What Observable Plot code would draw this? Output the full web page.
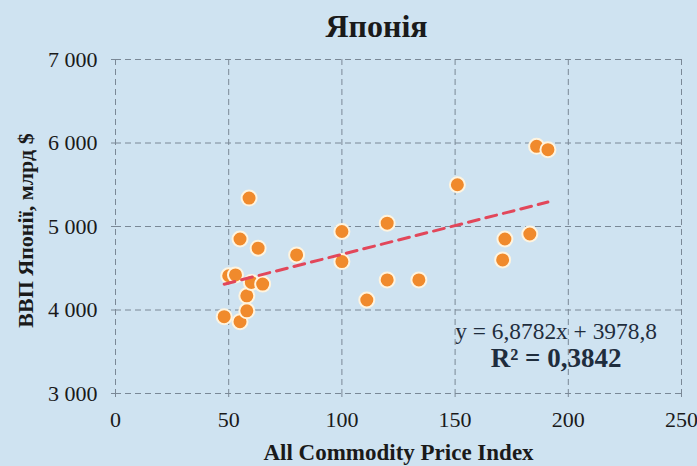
<!DOCTYPE html>
<html>
<head>
<meta charset="utf-8">
<script src="https://cdn.jsdelivr.net/npm/d3@7"></script>
<script src="https://cdn.jsdelivr.net/npm/@observablehq/plot@0.6"></script>
<style>
  html, body { margin: 0; padding: 0; background: #cfe3f1; }
  #chart svg { display: block; }
</style>
</head>
<body>
<div id="chart"></div>
<script>
// Data
const commodityIndex = [48, 50, 53, 55, 55, 59, 58, 58, 60, 65, 63, 80, 100, 100, 120, 120, 111, 134, 151, 172, 171, 183, 186, 191];
const gdpJapan       = [3920, 4410, 4420, 3860, 4850, 5340, 3990, 4170, 4330, 4310, 4740, 4660, 4940, 4580, 5040, 4360, 4120, 4360, 5500, 4850, 4600, 4910, 5960, 5920];
const trendCoefficients = [6.8782, 3978.8]; // slope, intercept (as printed on chart)
const xTicks = [0, 50, 100, 150, 200, 250];
const yTicks = [3000, 4000, 5000, 6000, 7000];
const titleText = "Японія";
const xLabel = "All Commodity Price Index";
const yLabel = "ВВП Японії, млрд $";
const equationText = "y = 6,8782x + 3978,8";
const r2Text = "R² = 0,3842";

const points = commodityIndex.map((x, i) => ({x, y: gdpJapan[i]}));
const xExt = d3.extent(commodityIndex);
const trend = xExt.map(x => ({x, y: trendCoefficients[0] * x + trendCoefficients[1]}));

const fmt = d => d3.format(",")(d).replace(/,/g, "\u00a0");
const serif = "'Liberation Serif', 'DejaVu Serif', serif";
const ink = "#1a1a1a";
const gridColor = "#7a8896";

const chart = Plot.plot({
  width: 697,
  height: 466,
  marginLeft: 115,
  marginRight: 16,
  marginTop: 59,
  marginBottom: 73,
  style: {background: "#cfe3f1", fontFamily: serif, color: ink, fontSize: "22px"},
  x: {domain: [0, 250], ticks: xTicks, label: null, axis: null},
  y: {domain: [3000, 7000], ticks: yTicks, label: null, axis: null},
  marks: [
    Plot.gridX(xTicks, {stroke: gridColor, strokeOpacity: 1, strokeDasharray: "6,4", strokeWidth: 1}),
    Plot.gridY(yTicks, {stroke: gridColor, strokeOpacity: 1, strokeDasharray: "6,4", strokeWidth: 1}),
    Plot.axisX(xTicks, {tickSize: 4, stroke: gridColor, tickFormat: () => "", label: null}),
    Plot.axisY(yTicks, {tickSize: 4, stroke: gridColor, tickFormat: () => "", label: null}),
    // tick labels
    Plot.text(xTicks, {x: d => d, frameAnchor: "bottom", dy: 26, text: d => String(d), fontSize: 22, fill: ink, lineAnchor: "middle"}),
    Plot.text(yTicks, {y: d => d, frameAnchor: "left", dx: -18, text: fmt, fontSize: 22, fill: ink, textAnchor: "end", lineAnchor: "middle"}),
    Plot.dot(points, {x: "x", y: "y", r: 7.5, fill: "#f08a2c", stroke: "#fff4df", strokeWidth: 2}),
    Plot.line(trend, {x: "x", y: "y", stroke: "#e2475a", strokeWidth: 3, strokeDasharray: "11,7"}),
    Plot.text([equationText], {x: 194.6, y: 3740, text: d => d, fontSize: 23.4, fill: "#1f2d3d", textAnchor: "middle", lineAnchor: "middle"}),
    Plot.text([r2Text], {x: 194.6, y: 3415, text: d => d, fontSize: 27, fontWeight: "bold", fill: "#1f2d3d", textAnchor: "middle", lineAnchor: "middle"}),
    Plot.text([titleText], {frameAnchor: "top", dy: -33, dx: -22, text: d => d, fontSize: 32, fontWeight: "bold", fill: ink, lineAnchor: "middle"}),
    Plot.text([xLabel], {frameAnchor: "bottom", dy: 59, text: d => d, fontSize: 23, fontWeight: "bold", fill: ink, lineAnchor: "middle"}),
    Plot.text([yLabel], {frameAnchor: "left", dx: -90, dy: 4, rotate: -90, text: d => d, fontSize: 22, fontWeight: "bold", fill: ink, textAnchor: "middle", lineAnchor: "middle"})
  ]
});
document.getElementById("chart").appendChild(chart);
</script>
</body>
</html>
